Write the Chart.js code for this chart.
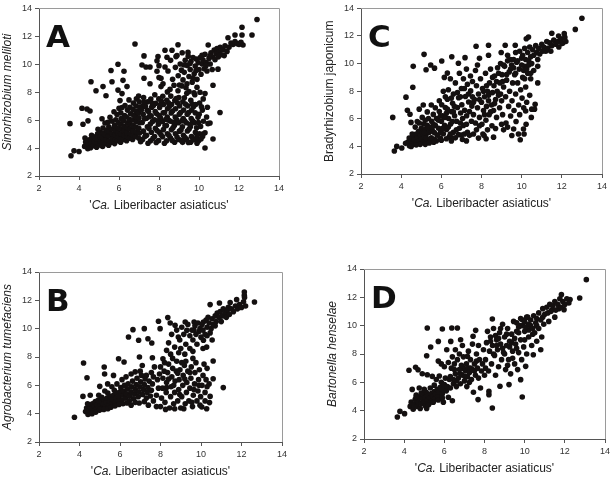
<!DOCTYPE html>
<html>
<head>
<meta charset="utf-8">
<script src="https://cdn.jsdelivr.net/npm/chart.js@4/dist/chart.umd.min.js"></script>
<style>
  body { margin: 0; background: #fff; }
  .panel { position: absolute; }
</style>
</head>
<body>
<canvas id="panel-a" class="panel" width="307" height="240" style="left:0;top:0"></canvas>
<canvas id="panel-c" class="panel" width="307" height="240" style="left:307px;top:0"></canvas>
<canvas id="panel-b" class="panel" width="307" height="240" style="left:0;top:240px"></canvas>
<canvas id="panel-d" class="panel" width="307" height="240" style="left:307px;top:240px"></canvas>
<script>
// tick values shared by all four panels
const axisTicks = [2, 4, 6, 8, 10, 12, 14];
const xTitleParts = [["'", false], ['Ca.', true], [" Liberibacter asiaticus'", false]];

// A - Sinorhizobium meliloti
const pointsA = [
  [3.55,5.75],[3.6,3.45],[3.75,3.8],[4.0,3.75],[4.15,6.85],[4.4,6.8],[4.55,6.65],[4.45,5.95],[4.2,5.7],[4.6,8.75],[4.85,8.1],[5.2,8.4],[5.35,7.75],[5.65,8.75],[5.6,9.55],[5.95,10.0],[6.25,9.5],[6.2,8.85],[5.95,8.15],[6.15,7.9],[6.4,8.4],[6.05,7.4],[6.8,11.45],[7.25,10.6],[7.15,9.95],[7.35,9.8],[7.55,9.8],[7.25,9.0],[7.55,8.6],[7.95,10.55],[7.9,10.25],[8.0,9.9],[8.0,9.05],[8.1,8.4],[8.3,11.0],[8.65,11.0],[8.95,11.4],[8.85,10.55],[9.45,10.85],[11.05,6.55],[10.7,8.5],[10.95,9.65],[10.3,4.0],[10.2,5.0],[10.7,4.65],[10.45,5.75],[12.9,13.2],[12.15,12.65],[12.65,12.1],[12.15,12.1],[11.8,12.1],[11.45,11.9],[12.05,11.5],
  [4.28,4.12],[4.33,4.43],[4.3,4.72],[4.44,3.96],[4.47,4.27],[4.42,4.56],[4.58,4.02],[4.62,4.31],[4.57,4.63],[4.63,4.92],[4.73,4.17],[4.78,4.46],[4.74,4.81],[4.88,4.06],[4.92,4.37],[4.87,4.66],[4.93,5.02],[5.03,4.22],[5.08,4.51],[5.04,4.83],[5.07,5.13],[5.18,4.12],[5.22,4.42],[5.17,4.76],[5.23,5.06],[5.2,5.43],[5.33,4.31],[5.37,4.62],[5.32,4.96],[5.38,5.28],[5.48,4.21],[5.53,4.52],[5.47,4.86],[5.52,5.16],[5.49,5.52],[5.63,4.41],[5.68,4.72],[5.64,5.02],[5.67,5.36],[5.66,5.92],[5.78,4.32],[5.83,4.61],[5.79,4.96],[5.82,5.26],[5.78,5.62],[5.84,6.03],[5.93,4.52],[5.98,4.81],[5.94,5.12],[5.97,5.46],[5.96,5.82],[6.08,4.42],[6.12,4.71],[6.09,5.02],[6.13,5.36],[6.1,5.72],[6.11,6.12],[6.09,6.52],[6.23,4.62],[6.27,4.91],[6.24,5.26],[6.26,5.56],[6.22,5.96],[6.28,6.32],[6.38,4.52],[6.43,4.81],[6.39,5.12],[6.42,5.46],[6.41,5.81],[6.37,6.22],[6.42,6.72],[6.53,4.71],[6.57,5.02],[6.54,5.36],[6.56,5.71],[6.52,6.06],[6.58,6.46],[6.55,6.92],[6.68,4.62],[6.72,4.91],[6.69,5.26],[6.71,5.61],[6.67,6.01],[6.73,6.36],[6.7,6.76],[6.72,7.22],[6.83,4.82],[6.87,5.16],[6.84,5.51],[6.86,5.91],[6.82,6.26],[6.88,6.61],[6.85,7.01],[6.87,7.52],[6.98,4.72],[7.02,5.06],[6.99,5.41],[7.03,5.81],[7.0,6.16],[6.97,6.51],[7.04,6.91],[7.01,7.31],[6.98,7.72],[5.15,6.1],[5.3,5.8],[4.95,5.35],[5.45,5.85],
  [7.18,4.62],[7.22,5.21],[7.16,5.83],[7.21,6.42],[7.19,7.03],[7.23,7.62],[7.38,4.91],[7.42,5.52],[7.37,6.13],[7.41,6.71],[7.43,7.32],[7.58,4.52],[7.62,5.13],[7.57,5.72],[7.61,6.31],[7.63,6.92],[7.59,7.51],[7.78,4.83],[7.82,5.42],[7.77,6.03],[7.81,6.62],[7.83,7.21],[7.79,7.82],[7.98,4.53],[8.02,5.12],[7.97,5.71],[8.01,6.32],[8.03,6.91],[7.99,7.52],[8.18,4.81],[8.22,5.32],[8.17,5.91],[8.21,6.52],[8.23,7.12],[8.19,7.71],[8.38,4.52],[8.42,5.03],[8.37,5.62],[8.41,6.22],[8.43,6.81],[8.39,7.42],[8.42,8.02],[8.58,4.72],[8.62,5.31],[8.57,5.92],[8.61,6.51],[8.63,7.12],[8.59,7.72],[8.78,4.42],[8.82,5.02],[8.77,5.61],[8.81,6.22],[8.83,6.82],[8.79,7.41],[8.98,4.62],[9.02,5.21],[8.97,5.82],[9.01,6.42],[9.03,7.02],[8.99,7.62],[9.18,4.41],[9.22,4.92],[9.17,5.52],[9.21,6.12],[9.23,6.72],[9.19,7.32],[9.38,4.62],[9.42,5.22],[9.37,5.81],[9.41,6.42],[9.43,7.02],[9.39,7.92],[9.58,4.42],[9.62,4.82],[9.57,5.52],[9.61,6.12],[9.63,6.72],[9.59,7.42],[9.78,4.62],[9.82,5.12],[9.77,5.82],[9.81,6.52],[9.83,7.12],[9.79,7.82],[9.98,4.52],[10.02,5.02],[9.97,5.82],[10.01,6.42],[10.03,7.22],[10.18,4.82],[10.22,5.92],[10.17,6.72],[10.21,7.52],[10.38,6.22],[10.42,6.92],[10.55,5.8],
  [7.3,4.85],[7.28,6.1],[7.32,7.0],[7.5,5.4],[7.48,6.6],[7.7,4.7],[7.68,5.9],[7.72,7.05],[7.9,5.25],[7.88,6.45],[8.1,4.95],[8.08,6.15],[8.12,7.35],[8.3,5.6],[8.28,6.55],[8.5,4.9],[8.48,6.0],[8.52,7.0],[8.7,5.45],[8.68,6.65],[8.9,4.8],[8.88,6.05],[8.92,7.25],[9.1,5.3],[9.08,6.55],[9.3,4.75],[9.28,5.95],[9.32,7.15],[9.5,5.35],[9.48,6.55],[9.7,4.6],[9.68,5.95],[9.72,6.95],[9.9,4.85],[9.88,5.45],[10.1,4.65],[10.08,5.55],[10.3,5.1],
  [7.08,4.45],[7.45,4.35],[7.86,4.4],[8.27,4.35],[8.66,4.55],[9.12,4.55],[9.47,4.4],[9.9,4.35],[7.12,6.75],[7.52,6.25],[7.95,5.95],[8.34,6.05],[8.73,5.85],[9.15,5.95],[9.55,5.7],[9.95,6.2],[7.25,7.3],[7.66,7.2],[8.06,7.1],[8.47,7.25],[8.86,7.55],[9.27,7.6],[9.66,7.15],[10.12,6.95],[8.55,8.2],[8.95,8.1],[9.15,8.45],[8.75,8.5],[6.0,6.85],[6.3,7.05],[6.5,7.45],[6.15,6.9],[5.9,6.4],[5.55,6.2],[5.75,6.6],
  [8.45,9.52],[8.58,10.28],[8.68,8.92],[8.82,9.78],[8.9,10.62],[8.96,9.18],[9.02,8.52],[9.06,10.02],[9.12,9.58],[9.16,10.82],[9.2,8.88],[9.26,9.42],[9.31,10.28],[9.35,8.32],[9.41,9.92],[9.46,10.58],[9.5,9.12],[9.56,9.62],[9.6,10.22],[9.66,8.72],[9.7,10.48],[9.76,9.32],[9.81,9.88],[9.86,10.38],[9.9,8.92],[9.96,10.12],[10.0,9.62],[10.06,10.48],[10.1,9.28],[10.16,10.02],[10.2,10.32],[10.26,9.68],[10.3,10.72],[10.36,10.12],[10.4,9.52],[10.46,11.38],[10.5,10.42],[10.56,10.02],[10.6,10.82],[10.66,9.62],[10.7,10.52],[10.76,11.02],[10.8,10.32],[10.86,10.78],[10.9,11.12],[10.96,10.52],[11.0,10.88],[11.06,11.22],[11.1,10.68],[11.2,11.02],[11.26,10.62],[11.3,11.32],[11.4,10.92],[11.5,11.22],[11.6,11.52],[11.7,11.42],[11.8,11.62],[11.9,11.48],[12.0,11.42],[12.1,11.58],[12.2,11.38],[7.9,9.5],[8.1,9.0],[8.3,9.8],[8.4,10.5],[8.2,8.6],[9.25,9.95],[9.55,10.05],[9.85,9.55],[10.15,10.65],[9.7,9.0],[9.4,8.6],[10.35,9.9],[10.55,10.6],[9.5,8.05],[9.75,7.95],[10.05,8.0],[9.9,8.35],[10.3,7.9]
];

// C - Bradyrhizobium japonicum
const pointsC = [
  [3.58,6.1],[3.66,3.67],[3.78,4.0],[4.03,3.88],[4.24,7.57],[4.31,6.62],[4.44,6.33],[4.49,5.74],[4.58,8.29],[4.6,9.8],[5.14,10.67],[5.24,9.55],[5.47,9.9],[5.66,9.67],[6.02,10.19],[6.15,9.0],[6.3,9.31],[6.52,10.5],[6.85,10.02],[7.18,10.43],[7.73,11.26],[7.9,10.38],[8.35,11.33],[8.35,10.6],[8.98,10.8],[9.18,11.33],[9.68,11.33],[10.34,11.93],[10.23,11.8],[10.8,8.6],[10.67,7.05],[10.64,6.7],[10.48,6.1],[10.2,6.57],[10.09,5.26],[10.12,4.9],[9.93,4.48],[9.84,4.9],[9.51,4.79],[9.6,5.26],[9.1,5.2],[8.6,4.67],[8.23,4.55],[8.13,4.79],[8.07,4.9],[13.0,13.29],[12.67,12.48],[12.12,12.17],[12.0,11.45],[11.84,12.0],[11.5,12.2],
  [4.22,4.22],[4.34,4.31],[4.41,4.05],[4.48,4.42],[4.55,4.18],[4.6,4.68],[4.66,4.47],[4.71,4.88],[4.76,4.28],[4.81,4.62],[4.86,5.08],[4.9,4.38],[4.96,4.82],[5.0,5.32],[5.02,4.52],[5.06,5.02],[5.1,4.32],[5.12,5.62],[5.16,4.72],[5.2,5.22],[5.26,4.92],[5.3,5.52],[5.32,4.42],[5.36,6.02],[5.4,5.02],[5.46,5.32],[5.5,4.62],[5.52,5.82],[5.56,5.12],[5.6,6.32],[5.66,4.52],[5.7,5.52],[5.76,6.02],[5.8,4.82],[5.86,5.32],[5.9,6.52],[5.96,5.02],[6.0,5.82],[6.02,7.02],[6.06,6.22],[6.1,4.92],[6.16,5.52],[6.2,6.82],[6.26,5.22],[6.3,7.42],[6.36,6.02],[6.4,4.72],[6.46,5.62],[6.5,6.52],[6.56,7.12],[6.6,5.02],[6.66,6.22],[6.7,4.62],[6.76,5.82],[6.8,6.82],[6.86,7.52],[6.9,5.32],[6.96,6.42],[7.0,4.82],[7.02,7.02],[7.06,6.02],[7.1,5.52],[7.16,6.62],[7.2,7.62],[7.26,6.22],[7.3,5.02],[7.36,7.22],[7.4,6.52],[7.46,8.02],[7.5,5.82],[7.52,6.92],
  [4.7,5.4],[4.9,5.7],[5.05,6.1],[5.25,4.6],[5.45,4.5],[5.65,5.0],[5.85,5.9],[5.75,4.4],[6.05,5.3],[6.25,6.4],[6.35,5.4],[6.55,5.8],[6.15,6.1],[4.95,4.15],[5.35,5.35],[5.6,5.6],[5.95,4.6],[6.45,4.9],[6.75,5.2],[4.55,4.9],[4.4,4.6],[5.15,5.0],[5.55,5.4],[6.65,6.9],[6.95,5.7],[7.25,5.6],[7.15,4.9],[7.4,4.8],[7.6,4.9],[7.75,5.2],[6.85,4.85],[6.55,4.6],
  [4.5,4.0],[4.75,4.1],[5.2,4.15],[5.4,4.25],[5.62,4.3],[6.0,4.45],[6.25,4.55],[6.5,4.4],[7.05,4.5],[7.25,4.4],[7.85,4.6],[7.9,5.5],[8.3,5.2],[8.7,5.3],[9.0,5.6],[9.3,5.4],[8.15,6.3],[8.45,6.5],[8.35,7.7],[8.65,7.1],[8.95,7.8],[8.75,8.7],[9.05,8.7],[9.25,9.2],[8.55,9.0],[9.45,9.6],[9.7,9.3],[8.85,9.3],[7.9,7.4],[8.1,8.0],[8.25,8.4],[7.55,7.6],[6.95,7.6],[7.15,8.2],[6.3,6.7],[6.6,6.5],[5.95,6.2],[5.2,5.9],[4.8,5.8],
  [7.6,6.3],[7.65,7.4],[7.7,5.7],[7.75,8.4],[7.8,6.8],[7.85,7.8],[7.9,6.1],[7.95,8.9],[8.0,7.2],[8.02,5.6],[8.05,8.2],[8.1,6.6],[8.15,7.6],[8.2,9.3],[8.22,5.9],[8.25,6.9],[8.3,8.0],[8.35,7.3],[8.38,6.3],[8.4,8.6],[8.45,9.6],[8.5,7.0],[8.52,5.5],[8.55,7.9],[8.6,6.6],[8.62,8.4],[8.65,9.1],[8.7,7.4],[8.75,6.1],[8.78,8.0],[8.8,9.7],[8.85,7.7],[8.9,6.8],[8.92,8.6],[8.95,10.0],[9.0,7.3],[9.02,9.2],[9.05,6.3],[9.1,8.3],[9.15,9.8],[9.2,7.6],[9.22,5.7],[9.25,8.8],[9.3,10.2],[9.35,6.9],[9.38,9.4],[9.4,8.0],[9.45,6.2],[9.5,9.9],[9.52,7.3],[9.55,8.6],[9.6,10.3],[9.62,6.6],[9.65,9.2],[9.7,7.8],[9.72,5.8],[9.75,10.1],[9.8,8.6],[9.85,7.0],[9.88,9.6],[9.9,6.3],[9.95,8.1],[10.0,10.4],[10.02,7.5],[10.05,9.0],[10.1,6.8],[10.15,9.8],[10.2,8.3],[10.22,5.6],[10.25,7.2],[10.3,9.3],[10.35,10.2],[10.4,7.7],[10.45,8.9],[10.5,6.7],
  [6.2,7.6],[6.35,8.1],[6.45,8.9],[6.6,7.8],[6.7,8.6],[6.9,9.3],[7.0,8.2],[7.1,8.9],[7.25,9.6],[7.3,8.5],[7.45,9.1],[7.55,8.7],[7.7,9.5],[7.8,9.9],[7.35,7.8],[7.6,7.2],[6.5,7.5],[6.8,7.9],[5.9,7.3],[6.1,8.0],[5.5,7.0],[5.7,6.8],[5.3,6.5],[5.1,7.0],[4.9,6.7],
  [9.1,9.9],[9.3,10.6],[9.45,10.3],[9.6,9.7],[9.7,10.8],[9.8,10.2],[9.9,10.9],[10.0,9.9],[10.05,10.6],[10.15,11.1],[10.2,10.3],[10.3,10.8],[10.35,9.9],[10.4,11.2],[10.45,10.5],[10.5,10.0],[10.55,11.0],[10.6,10.6],[10.7,11.3],[10.75,10.8],[10.8,10.3],[10.85,11.1],[10.9,10.7],[11.0,11.4],[11.05,10.9],[11.1,11.2],[11.2,10.9],[11.25,11.6],[11.3,11.1],[11.4,11.5],[11.45,10.9],[11.5,11.3],[11.6,11.7],[11.7,11.4],[11.8,11.6],[11.85,11.2],[11.95,11.8],[12.05,11.5],[12.15,11.9],[12.2,11.6],[10.1,9.5],[10.25,9.6],[10.6,9.5],[10.8,9.8],[10.45,9.3],[10.15,8.9]
];

// B - Agrobacterium tumefaciens
const pointsB = [
  [3.75,3.75],[4.2,7.58],[4.37,6.54],[4.17,5.22],[4.53,5.3],[5.0,5.93],[5.22,7.29],[5.24,6.8],[5.39,6.1],[5.68,6.7],[5.93,7.88],[6.2,7.65],[6.42,9.41],[6.64,9.93],[6.92,9.18],[6.96,8.0],[7.2,10.0],[7.38,9.29],[7.57,8.99],[7.6,7.95],[7.9,10.52],[7.98,10.0],[8.12,7.88],[8.3,8.47],[8.36,10.78],[8.48,10.4],[8.72,10.24],[8.88,9.41],[9.22,10.47],[9.3,9.88],[9.66,10.47],[10.12,9.18],[10.28,8.7],[10.12,10.47],[10.6,7.72],[10.6,6.47],[10.45,5.22],[10.28,4.35],[10.04,4.47],[11.1,5.84],[10.42,4.78],[10.91,11.81],[12.64,11.88],[12.14,12.59],[12.14,12.35],[11.76,12.05],[11.44,11.84],
  [4.3,4.15],[4.35,4.4],[4.42,3.95],[4.46,4.25],[4.5,4.55],[4.56,4.1],[4.6,4.38],[4.64,4.7],[4.7,4.2],[4.74,4.52],[4.78,4.85],[4.84,4.35],[4.88,4.65],[4.92,4.95],[4.98,4.25],[5.02,4.55],[5.06,4.85],[5.1,5.15],[5.14,4.4],[5.18,4.7],[5.22,5.0],[5.28,4.5],[5.32,4.8],[5.36,5.1],[5.4,5.45],[5.45,4.6],[5.5,4.9],[5.54,5.2],[5.6,4.7],[5.64,5.0],[5.68,5.3],[5.72,5.65],[5.78,4.8],[5.82,5.1],[5.86,5.45],[5.92,4.9],[5.96,5.2],[6.0,5.55],[6.04,5.85],[6.1,4.95],[6.14,5.3],[6.18,5.6],[6.22,6.0],[6.28,5.1],[6.32,5.4],[6.36,5.75],[6.4,6.1],[6.46,4.9],[6.5,5.25],[6.54,5.55],[6.58,5.9],[6.62,6.3],[6.68,5.05],[6.72,5.4],[6.76,5.7],[6.8,6.05],[6.84,6.5],[6.9,5.2],[6.94,5.55],[6.98,5.9],[7.02,6.25],[7.06,6.7],[7.12,5.35],[7.16,5.7],[7.2,6.05],[7.24,6.45],[7.3,5.1],[7.34,5.5],[7.38,5.85],[7.44,6.3],[7.5,5.25],[7.55,5.65],[7.6,6.1],[7.65,6.6],
  [4.4,4.7],[4.62,4.0],[4.8,4.1],[5.0,4.3],[5.2,4.3],[5.4,4.35],[5.55,4.45],[5.75,4.55],[5.95,4.65],[6.15,4.7],[6.35,4.75],[6.55,4.6],[6.75,4.8],[4.95,5.3],[5.25,5.6],[5.6,5.9],[5.85,6.1],[6.1,6.4],[6.3,6.6],[6.55,6.8],[6.75,6.95],[7.0,7.0],[6.95,4.75],[7.2,4.85],[7.4,4.6],[7.65,4.9],[7.8,5.3],[7.9,5.8],[7.85,6.4],
  [8.0,4.5],[8.05,5.1],[8.1,5.8],[8.12,6.5],[8.18,7.0],[8.22,4.8],[8.28,5.5],[8.3,6.2],[8.35,6.9],[8.4,7.5],[8.45,4.4],[8.5,5.2],[8.52,5.9],[8.56,6.6],[8.6,7.2],[8.65,4.7],[8.7,5.5],[8.72,6.3],[8.78,7.0],[8.8,7.7],[8.85,4.9],[8.9,5.7],[8.92,6.4],[8.96,7.1],[9.0,4.4],[9.05,5.2],[9.1,6.0],[9.12,6.7],[9.18,7.4],[9.22,4.7],[9.28,5.5],[9.3,6.2],[9.35,7.0],[9.4,4.9],[9.45,5.8],[9.5,6.5],[9.52,7.3],[9.58,4.5],[9.62,5.3],[9.68,6.1],[9.7,6.9],[9.75,7.6],[9.8,4.9],[9.85,5.6],[9.88,6.4],[9.92,7.1],[9.98,5.2],[10.05,6.0],[10.1,6.7],[10.2,5.5],[10.25,6.4],[10.3,7.2],[10.4,6.1],[7.8,4.5],[7.95,6.8],[8.2,7.6],[8.6,7.9],[9.05,7.6],[9.6,7.9],[7.7,7.3],[7.55,6.9],[7.3,6.7],[7.1,7.4],
  [8.25,4.3],[8.7,4.35],[9.15,4.35],[9.55,4.8],[9.95,4.6],[10.2,4.9],[10.3,5.9],[10.15,7.5],[8.4,6.45],[8.65,6.0],[8.95,5.35],[9.2,6.45],[9.45,6.9],[9.65,5.7],[9.9,6.0],[8.85,6.85],[8.3,5.85],[9.25,7.7],[8.0,7.3],[8.5,8.2],[8.9,8.3],[9.6,8.4],[10.3,9.5],[10.7,10.2],[11.0,10.5],[11.35,11.5],[9.65,9.9],[10.25,10.6],
  [8.4,9.0],[8.55,9.6],[8.7,8.7],[8.8,9.9],[8.95,9.2],[9.05,10.1],[9.15,9.6],[9.25,8.9],[9.35,10.3],[9.45,9.5],[9.55,9.9],[9.6,9.2],[9.7,10.2],[9.75,9.6],[9.85,10.4],[9.9,9.8],[9.95,10.0],[10.0,9.4],[10.05,10.3],[10.1,9.9],[10.2,9.6],[10.3,10.1],[10.35,10.8],[10.4,10.4],[10.45,11.7],[10.5,10.0],[10.55,10.7],[10.6,10.3],[10.7,10.9],[10.75,10.5],[10.8,11.1],[10.9,10.8],[10.95,11.2],[11.05,10.9],[11.1,11.4],[11.2,11.1],[11.25,10.8],[11.3,11.3],[11.4,11.0],[11.5,11.4],[11.6,11.2],[11.7,11.6],[11.8,11.4],[11.9,11.7],[12.0,11.5],[12.1,11.9],[12.15,12.2],[12.2,11.6],[9.45,8.6],[9.8,8.9],[10.1,8.6],[10.55,9.2],[10.45,9.7],[9.2,8.2],[9.0,8.6]
];

// D - Bartonella henselae
const pointsD = [
  [3.66,3.55],[3.79,3.95],[4.02,3.79],[4.24,6.85],[4.57,7.06],[4.69,6.89],[4.9,6.61],[5.15,6.54],[5.12,7.88],[5.15,9.84],[5.32,8.49],[5.4,6.42],[5.7,8.89],[5.9,9.76],[6.12,8.3],[6.32,8.89],[6.37,9.84],[6.65,9.84],[6.81,9.01],[7.15,7.84],[7.43,9.25],[7.56,9.67],[7.68,4.78],[8.22,5.13],[8.22,5.36],[8.39,4.19],[8.39,10.47],[8.77,5.72],[9.22,5.84],[9.8,6.19],[9.88,4.96],[10.05,7.13],[10.43,7.95],[10.8,8.3],[13.07,13.25],[12.74,11.95],[12.26,11.84],[11.83,12.19],[11.96,11.13],
  [4.3,4.3],[4.35,4.6],[4.4,5.5],[4.45,4.1],[4.5,4.45],[4.55,4.8],[4.6,5.1],[4.65,4.3],[4.7,4.6],[4.75,4.95],[4.8,4.15],[4.85,4.5],[4.9,4.85],[4.95,5.2],[5.0,4.6],[5.05,4.95],[5.1,5.3],[5.12,4.15],[5.15,4.75],[5.2,5.05],[5.25,4.5],[5.3,4.9],[5.35,5.2],[5.4,4.7],[5.45,5.0],[5.5,5.35],[5.55,4.85],[5.6,5.15],[5.65,5.5],[5.7,5.0],[5.75,5.3],[5.8,5.65],[5.85,6.0],[5.9,5.2],[5.95,5.5],[6.0,5.85],[6.05,6.3],[6.1,5.4],[5.6,6.2],[5.75,6.45],[5.5,5.8],[5.3,5.6],[5.95,4.6],[6.15,5.7],[6.2,4.95],[6.25,6.2],[6.3,5.6],[6.4,4.7],[6.45,5.9],[5.05,4.35],[4.6,5.0],[4.85,5.25],
  [4.75,5.6],[5.0,5.5],[5.2,4.4],[5.45,4.6],[5.7,4.75],[5.9,4.9],[6.5,6.9],[6.6,6.1],[6.8,6.6],[6.95,7.0],[7.05,6.4],[7.25,6.0],[7.3,7.0],[7.5,6.8],[7.6,7.5],[8.05,7.0],[8.3,8.9],[8.45,8.0],[8.55,9.3],[8.6,8.6],[8.7,9.1],[8.8,9.8],[8.9,8.4],[9.0,8.0],[9.1,9.4],[9.25,8.5],[9.35,8.8],[9.5,9.1],[9.6,8.4],[9.7,9.5],[10.0,9.0],[10.2,9.7],[10.4,9.4],[10.1,10.6],[10.6,10.0],[10.9,10.6],[11.35,11.1],[11.7,11.2],[9.4,7.7],[9.15,7.2],
  [6.3,6.4],[6.35,7.0],[6.45,6.2],[6.5,7.3],[6.55,6.6],[6.6,5.7],[6.65,7.6],[6.7,6.3],[6.75,6.9],[6.8,5.9],[6.85,7.2],[6.9,6.5],[6.95,7.8],[7.0,6.1],[7.05,6.8],[7.1,7.3],[7.12,5.7],[7.15,6.4],[7.2,7.0],[7.25,6.7],[7.3,7.6],[7.35,6.2],[7.4,6.9],[7.45,5.3],[7.5,7.3],[7.55,6.5],[7.6,8.0],[7.65,7.0],[7.7,6.3],[7.75,7.6],[7.8,5.6],[7.85,6.8],[7.9,7.3],[7.95,8.3],[8.0,6.5],[6.2,7.4],[6.0,7.1],[5.85,7.3],[5.7,7.5],[6.55,8.3],[6.9,8.6],[7.2,8.2],[7.4,8.7],[7.7,8.6],[6.4,7.8],[6.75,8.0],
  [8.05,7.6],[8.1,8.8],[8.15,9.6],[8.2,6.8],[8.25,8.2],[8.3,9.2],[8.35,7.3],[8.4,8.6],[8.45,9.8],[8.5,7.9],[8.55,6.5],[8.6,9.0],[8.65,8.3],[8.7,7.1],[8.75,9.5],[8.8,8.7],[8.85,7.6],[8.9,10.1],[8.95,8.1],[9.0,9.2],[9.05,6.9],[9.1,8.6],[9.15,9.8],[9.2,7.6],[9.25,8.9],[9.3,6.6],[9.35,9.4],[9.4,8.2],[9.45,10.3],[9.5,7.3],[9.55,8.7],[9.6,9.6],[9.65,6.9],[9.7,8.1],[9.75,10.0],[9.8,9.0],[9.85,7.6],[9.9,10.4],[9.95,8.5],[10.0,9.6],[10.1,8.0],[10.2,9.2],[10.3,10.0],[10.35,8.6],[10.5,9.5],[10.6,8.9],[10.7,9.8],[10.85,9.2],
  [9.6,10.2],[9.7,9.9],[9.8,10.5],[9.9,10.0],[10.0,10.3],[10.05,9.9],[10.15,10.6],[10.2,10.1],[10.3,10.4],[10.4,9.8],[10.45,10.7],[10.55,10.2],[10.6,10.5],[10.7,10.9],[10.8,10.4],[10.9,11.2],[11.0,10.8],[11.1,11.3],[11.15,10.9],[11.25,11.5],[11.3,11.0],[11.4,11.4],[11.5,11.7],[11.55,11.1],[11.65,11.5],[11.75,11.9],[11.8,11.3],[11.9,11.7],[12.0,11.5],[12.1,11.9],[12.2,11.6],[11.5,10.6],[11.2,10.3],[10.95,10.1]
];

const FONT = '"Liberation Sans", Arial, sans-serif';

// frame, panel letter and axis titles
const decorations = {
  id: 'decorations',
  afterDraw(chart, args, opts) {
    const { ctx, chartArea: a } = chart;
    ctx.save();
    ctx.strokeStyle = '#9a9a9a';
    ctx.lineWidth = 1;
    ctx.beginPath();
    ctx.moveTo(a.left, Math.round(a.top) + 0.5);
    ctx.lineTo(Math.round(a.right) + 0.5, Math.round(a.top) + 0.5);
    ctx.lineTo(Math.round(a.right) + 0.5, a.bottom);
    ctx.stroke();

    ctx.fillStyle = '#111';
    ctx.textBaseline = 'alphabetic';
    ctx.textAlign = 'left';
    ctx.font = 'bold 31px "DejaVu Sans", sans-serif';
    ctx.fillText(opts.letter, a.left + 7, a.top + 39);

    // x title, "Ca." in italics
    ctx.fillStyle = '#222';
    ctx.textBaseline = 'middle';
    let total = 0;
    for (const [txt, it] of xTitleParts) {
      ctx.font = (it ? 'italic ' : '') + '12px ' + FONT;
      total += ctx.measureText(txt).width;
    }
    let x = (a.left + a.right) / 2 - total / 2;
    const y = a.bottom + 30;
    for (const [txt, it] of xTitleParts) {
      ctx.font = (it ? 'italic ' : '') + '12px ' + FONT;
      ctx.fillText(txt, x, y);
      x += ctx.measureText(txt).width;
    }

    // y title
    ctx.translate(a.left - 31, (a.top + a.bottom) / 2);
    ctx.rotate(-Math.PI / 2);
    ctx.textAlign = 'center';
    ctx.font = (opts.yItalic ? 'italic ' : '') + '12px ' + FONT;
    ctx.fillText(opts.yTitle, 0, 0);
    ctx.restore();
  }
};

function axis(fitSize, horizontal) {
  return {
    type: 'linear',
    min: axisTicks[0],
    max: axisTicks[axisTicks.length - 1],
    afterBuildTicks: (s) => { s.ticks = axisTicks.map((v) => ({ value: v })); },
    ticks: { font: { size: 9, family: FONT }, color: '#333', padding: 3 },
    grid: { drawOnChartArea: false, tickLength: 4, color: '#555' },
    border: { color: '#555' },
    afterFit: (s) => { if (horizontal) s.height = fitSize; else s.width = fitSize; }
  };
}

function makePanel(id, points, letter, yTitle, yItalic, yWidth, xHeight, padTop, padRight) {
  new Chart(document.getElementById(id), {
    type: 'scatter',
    data: {
      datasets: [{
        data: points.map(([x, y]) => ({ x, y })),
        backgroundColor: '#141010',
        borderWidth: 0,
        pointRadius: 2.8
      }]
    },
    options: {
      responsive: false,
      animation: false,
      layout: { padding: { top: padTop, right: padRight, left: 0, bottom: 0 } },
      plugins: {
        legend: { display: false },
        tooltip: { enabled: false },
        decorations: { letter, yTitle, yItalic }
      },
      scales: {
        x: axis(xHeight, true),
        y: axis(yWidth, false)
      }
    },
    plugins: [decorations]
  });
}

makePanel('panel-a', pointsA, 'A', 'Sinorhizobium meliloti', true, 39, 64, 7, 28);
makePanel('panel-c', pointsC, 'C', 'Bradyrhizobium japonicum', false, 54, 66, 6, 12);
makePanel('panel-b', pointsB, 'B', 'Agrobacterium tumefaciens', true, 39, 38, 32, 25);
makePanel('panel-d', pointsD, 'D', 'Bartonella henselae', true, 57, 41, 29, 9);
</script>
</body>
</html>
